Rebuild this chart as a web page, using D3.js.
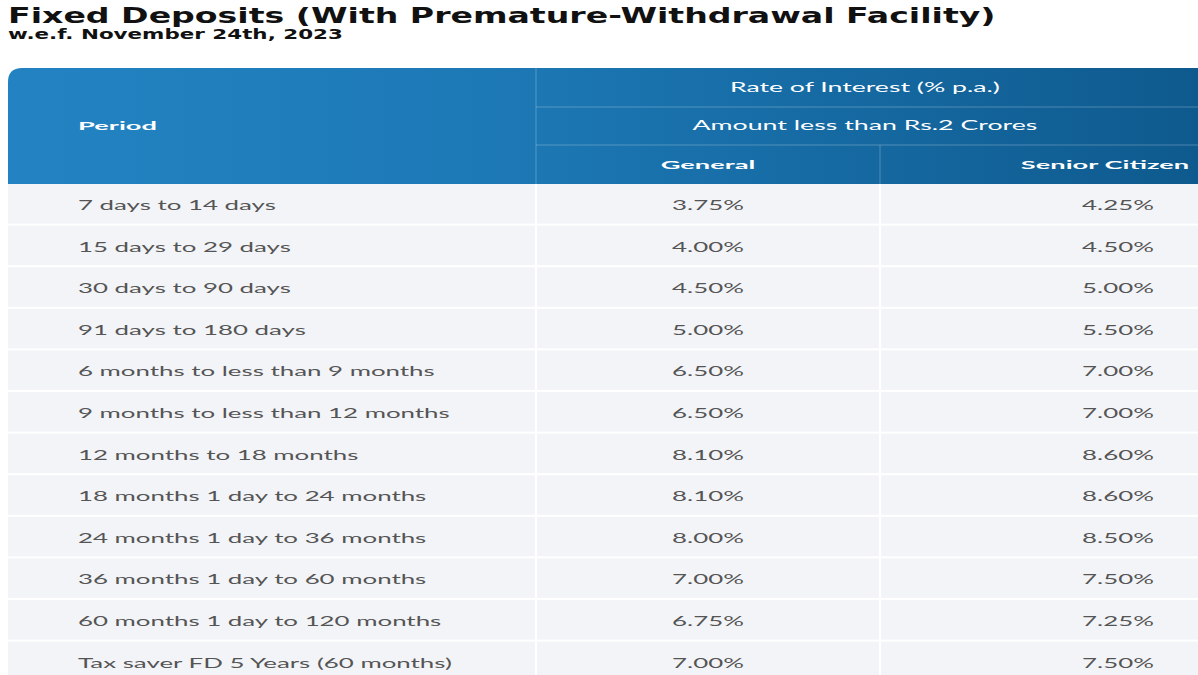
<!DOCTYPE html>
<html><head><meta charset="utf-8">
<script src="https://cdn.jsdelivr.net/npm/d3@7"></script>
<style>body{margin:0;background:#fff;overflow:hidden}</style>
</head><body>
<div id="chart"></div>
<script>
const W = 1198, H = 675;
const periods = ["7 days to 14 days","15 days to 29 days","30 days to 90 days","91 days to 180 days",
  "6 months to less than 9 months","9 months to less than 12 months","12 months to 18 months",
  "18 months 1 day to 24 months","24 months 1 day to 36 months","36 months 1 day to 60 months",
  "60 months 1 day to 120 months","Tax saver FD 5 Years (60 months)"];
const general = [3.75,4.00,4.50,5.00,6.50,6.50,8.10,8.10,8.00,7.00,6.75,7.00];
const senior  = [4.25,4.50,5.00,5.50,7.00,7.00,8.60,8.60,8.50,7.50,7.25,7.50];
const headers = ["Period","Rate of Interest (% p.a.)","Amount less than Rs.2 Crores","General","Senior Citizen"];

const svg = d3.select("#chart").append("svg").attr("width", W).attr("height", H);
const font = "Lato, 'Open Sans', sans-serif";

// stretch text horizontally so it reaches a target width
function stretched(g, x, y, str, target, opts) {
  const t = g.append("text").attr("font-family", opts.family || font)
    .attr("font-size", opts.size).attr("font-weight", opts.weight || 400)
    .attr("fill", opts.fill).text(str);
  const w = t.node().getComputedTextLength();
  const sx = opts.sx || target / w;
  let x0 = x;
  if (opts.anchor === "middle") x0 = x - w * sx / 2;
  t.attr("transform", `translate(${x0},${y}) scale(${sx},1)`);
  return sx;
}

// title
const tg = svg.append("g");
stretched(tg, 8, 23, "Fixed Deposits (With Premature-Withdrawal Facility)", 988, {size: 22, weight: 700, fill: "#111", family: "'DejaVu Sans', sans-serif"});
stretched(tg, 8, 39, "w.e.f. November 24th, 2023", 335, {size: 14, weight: 700, fill: "#111", family: "'DejaVu Sans', sans-serif"});

const xL = 8, xG = 536, xS = 880, xR = 1198;
const yTop = 68, hb = 184;
const y = d3.scaleBand().domain(periods).range([hb, hb + 12 * 41.6]);

// header gradient
const defs = svg.append("defs");
const grad = defs.append("linearGradient").attr("id", "hg");
grad.append("stop").attr("offset", "0%").attr("stop-color", "#2383c2");
grad.append("stop").attr("offset", "40%").attr("stop-color", "#1d79b6");
grad.append("stop").attr("offset", "100%").attr("stop-color", "#0e5a8e");
svg.append("path").attr("fill", "url(#hg)")
  .attr("d", `M${xL},${hb} V${yTop + 14} Q${xL},${yTop} ${xL + 14},${yTop} H${xR} V${hb} Z`);
const ln = "rgba(255,255,255,0.25)";
svg.append("line").attr("x1", xG).attr("x2", xG).attr("y1", yTop).attr("y2", hb).attr("stroke", ln);
svg.append("line").attr("x1", xS).attr("x2", xS).attr("y1", 145).attr("y2", hb).attr("stroke", ln);
[107, 145].forEach(v => svg.append("line").attr("x1", xG).attr("x2", xR).attr("y1", v).attr("y2", v).attr("stroke", ln));

const hw = {fill: "#fff", size: 12, weight: 700};
const hs = stretched(svg, 78, 130, headers[0], 79, hw);
stretched(svg, (xG + xR) / 2 - 2, 92, headers[1], 270, {fill: "#fff", size: 13, anchor: "middle"});
stretched(svg, (xG + xR) / 2 - 2, 130, headers[2], 345, {fill: "#fff", size: 13, anchor: "middle"});
stretched(svg, 708, 169, headers[3], 0, Object.assign({anchor: "middle", sx: hs}, hw));
stretched(svg, 1105, 169, headers[4], 0, Object.assign({anchor: "middle", sx: hs}, hw));

// body rows
const rows = svg.append("g").selectAll("g").data(periods).join("g");
rows.append("rect").attr("x", xL).attr("width", xR - xL)
  .attr("y", d => y(d)).attr("height", y.bandwidth() - 2).attr("fill", "#f3f4f8");
svg.append("line").attr("x1", xG).attr("x2", xG).attr("y1", hb).attr("y2", H).attr("stroke", "#fff").attr("stroke-width", 2);
svg.append("line").attr("x1", xS).attr("x2", xS).attr("y1", hb).attr("y2", H).attr("stroke", "#fff").attr("stroke-width", 2);

const body = {fill: "#555", size: 14};
const bs = stretched(svg.append("g"), -1000, -1000, periods[0], 198, body);
rows.each(function (d, i) {
  const g = d3.select(this), yy = y(d) + 26;
  stretched(g, 78, yy, d, 0, Object.assign({sx: bs}, body));
  stretched(g, 708, yy, general[i].toFixed(2) + "%", 0, Object.assign({sx: bs, anchor: "middle"}, body));
  stretched(g, 1118, yy, senior[i].toFixed(2) + "%", 0, Object.assign({sx: bs, anchor: "middle"}, body));
});
</script>
</body></html>
